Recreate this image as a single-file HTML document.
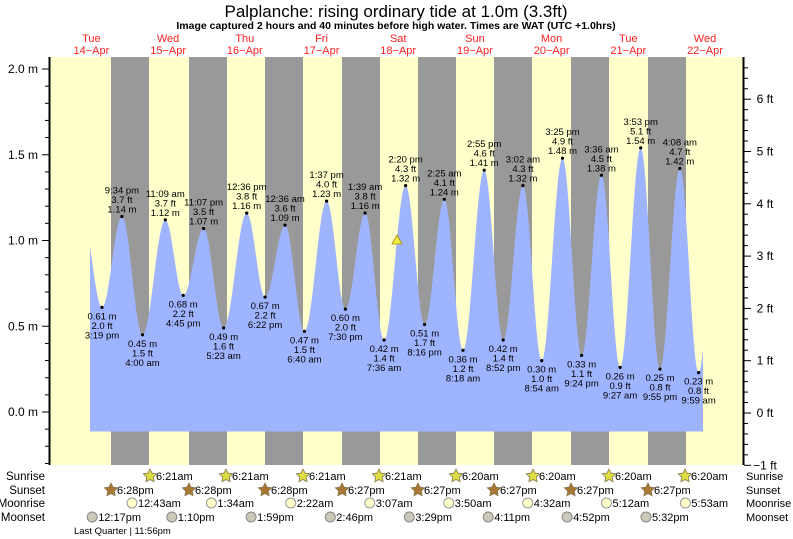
<!DOCTYPE html>
<html><head><meta charset="utf-8"><style>
body{margin:0;background:#fff;}
svg{display:block;font-family:"Liberation Sans",sans-serif;}
</style></head><body>
<svg id="s" width="793" height="539" xmlns="http://www.w3.org/2000/svg"></svg>
<script>
var s=document.getElementById('s');var h='';
function X(t){return 53+t*3.196;}
function Y(m){return 412-m*171.5;}
h+='<rect x="50" y="57" width="693" height="408" fill="#ffffcc"/>';
var g=[111,189,265,342,418,494,571,648];
g.forEach(function(a){h+='<rect x="'+a+'" y="57" width="38" height="408" fill="#999"/>';});
var E=[[15.32,.61,'3:19 pm'],[21.57,1.14,'9:34 pm'],[28,.45,'4:00 am'],[35.15,1.12,'11:09 am'],[40.75,.68,'4:45 pm'],[47.12,1.07,'11:07 pm'],[53.38,.49,'5:23 am'],[60.6,1.16,'12:36 pm'],[66.37,.67,'6:22 pm'],[72.6,1.09,'12:36 am'],[78.67,.47,'6:40 am'],[85.62,1.23,'1:37 pm'],[91.5,.60,'7:30 pm'],[97.65,1.16,'1:39 am'],[103.6,.42,'7:36 am'],[110.33,1.32,'2:20 pm'],[116.27,.51,'8:16 pm'],[122.42,1.24,'2:25 am'],[128.3,.36,'8:18 am'],[134.92,1.41,'2:55 pm'],[140.87,.42,'8:52 pm'],[147.03,1.32,'3:02 am'],[152.9,.30,'8:54 am'],[159.42,1.48,'3:25 pm'],[165.4,.33,'9:24 pm'],[171.6,1.38,'3:36 am'],[177.45,.26,'9:27 am'],[183.88,1.54,'3:53 pm'],[189.92,.25,'9:55 pm'],[196.13,1.42,'4:08 am'],[202,.23,'9:59 am']];
var P=[[9.5,1.1]].concat(E).concat([[208.2,1.35]]);
function lvl(t){for(var i=0;i<P.length-1;i++){var a=P[i],b=P[i+1];if(t>=a[0]&&t<=b[0]){var f=(t-a[0])/(b[0]-a[0]);return a[1]+(b[1]-a[1])*(1-Math.cos(Math.PI*f))/2;}}return 0;}
var t0=(90-53)/3.196,t1=(703-53)/3.196;
var d='M90,431.5';for(var t=t0;t<=t1;t+=0.25){d+=' L'+X(t).toFixed(1)+','+Y(lvl(t)).toFixed(1);}
d+=' L703,'+Y(lvl(t1)).toFixed(1)+' L703,431.5 Z';
h+='<path d="'+d+'" fill="#9fb4ff"/>';
E.forEach(function(e,i){var x=X(e[0]),y=Y(e[1]);var ft=(e[1]*3.2808).toFixed(1)+' ft',m=e[1].toFixed(2)+' m';var tm=e[2];
h+='<circle cx="'+x.toFixed(1)+'" cy="'+y.toFixed(1)+'" r="1.6" fill="#000"/>';
var L=e[1]>0.9?[tm,ft,m]:[m,ft,tm];var by=e[1]>0.9?y-23:y+12;
L.forEach(function(s,j){h+='<text x="'+x.toFixed(1)+'" y="'+(by+j*9.5).toFixed(1)+'" font-size="9.5" text-anchor="middle">'+s+'</text>';});});
h+='<polygon points="397,235 392,244 402,244" fill="#ee4" stroke="#a80" stroke-width="0.8"/>';
h+='<line x1="49.5" y1="57" x2="49.5" y2="465" stroke="#000" stroke-width="2"/>';
h+='<line x1="743.5" y1="57" x2="743.5" y2="465" stroke="#000" stroke-width="2"/>';
for(var k=-3;k<=21;k++){var y=Y(k/10);if(y<57)continue;var maj=k%5==0;h+='<line x1="'+(maj?42:45)+'" y1="'+y+'" x2="49" y2="'+y+'" stroke="#000"/>';if(maj)h+='<text x="38" y="'+(y+4)+'" font-size="12" text-anchor="end">'+(k/10).toFixed(1)+' m</text>';}
for(var k=-5;k<=33;k++){var f=k/5,y=413-f*52.3;if(y<57)continue;var maj=k%5==0;h+='<line x1="744" y1="'+y+'" x2="'+(maj?751:748)+'" y2="'+y+'" stroke="#000"/>';if(maj)h+='<text x="765" y="'+(y+4)+'" font-size="12" text-anchor="middle">'+(f<0?'−1':f)+' ft</text>';}
var D=[['Tue','14−Apr'],['Wed','15−Apr'],['Thu','16−Apr'],['Fri','17−Apr'],['Sat','18−Apr'],['Sun','19−Apr'],['Mon','20−Apr'],['Tue','21−Apr'],['Wed','22−Apr']];
D.forEach(function(a,i){var x=91.4+76.7*i;h+='<text x="'+x+'" y="42" font-size="11" fill="#f22" text-anchor="middle">'+a[0]+'</text><text x="'+x+'" y="54" font-size="11" fill="#f22" text-anchor="middle">'+a[1]+'</text>';});
h+='<text x="396" y="17" font-size="17" text-anchor="middle">Palplanche: rising  ordinary tide at 1.0m (3.3ft)</text>';
h+='<text x="396" y="29" font-size="10.5" font-weight="bold" text-anchor="middle">Image captured 2 hours and 40 minutes before high water. Times are WAT (UTC +1.0hrs)</text>';
var rows=[['Sunrise',480],['Sunset',494],['Moonrise',507],['Moonset',521]];
rows.forEach(function(r){h+='<text x="45" y="'+r[1]+'" font-size="11.5" text-anchor="end">'+r[0]+'</text><text x="746" y="'+r[1]+'" font-size="11">'+r[0]+'</text>';});
function star(x,y,c){var p='';for(var i=0;i<10;i++){var a=-Math.PI/2+i*Math.PI/5,r=i%2?3.5:7;p+=(x+r*Math.cos(a)).toFixed(1)+','+(y+r*Math.sin(a)).toFixed(1)+' ';}return '<polygon points="'+p+'" fill="'+c+'" stroke="#875" stroke-width="0.8"/>';}
var sr=[150,226,303,379,456,533,609,685];
sr.forEach(function(x,i){h+=star(x,476,'#dd4')+'<text x="'+(x+6)+'" y="480" font-size="11">'+(i<4?'6:21am':'6:20am')+'</text>';});
g.forEach(function(x,i){h+=star(x,490,'#a73')+'<text x="'+(x+6)+'" y="494" font-size="11">'+(i<3?'6:28pm':'6:27pm')+'</text>';});
var mr=[[24.72,'12:43am'],[49.57,'1:34am'],[74.37,'2:22am'],[99.12,'3:07am'],[123.83,'3:50am'],[148.53,'4:32am'],[173.2,'5:12am'],[197.88,'5:53am']];
mr.forEach(function(a){var x=X(a[0]);h+='<circle cx="'+x.toFixed(1)+'" cy="503" r="5" fill="#ffffcc" stroke="#999"/><text x="'+(x+6).toFixed(1)+'" y="507" font-size="11">'+a[1]+'</text>';});
var ms=[[12.28,'12:17pm'],[37.17,'1:10pm'],[61.98,'1:59pm'],[86.77,'2:46pm'],[111.48,'3:29pm'],[136.18,'4:11pm'],[160.87,'4:52pm'],[185.53,'5:32pm']];
ms.forEach(function(a){var x=X(a[0]);h+='<circle cx="'+x.toFixed(1)+'" cy="517" r="5" fill="#ccc8b8" stroke="#888"/><text x="'+(x+6).toFixed(1)+'" y="521" font-size="11">'+a[1]+'</text>';});
h+='<text x="74" y="534" font-size="9.5">Last Quarter | 11:56pm</text>';
s.innerHTML=h;
</script>
</body></html>
